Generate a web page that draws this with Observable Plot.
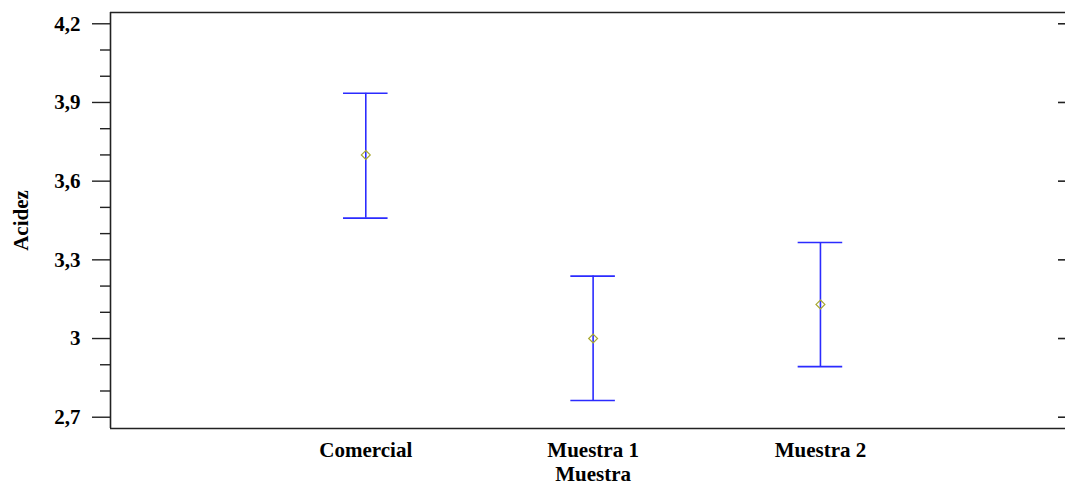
<!DOCTYPE html>
<html>
<head>
<meta charset="utf-8">
<script src="https://cdn.jsdelivr.net/npm/d3@7"></script>
<script src="https://cdn.jsdelivr.net/npm/@observablehq/plot@0.6"></script>
<style>
  html, body { margin: 0; padding: 0; background: #fff; }
  #chart svg { display: block; }
</style>
</head>
<body>
<div id="chart"></div>
<script>
// Data
const categories = ["Comercial", "Muestra 1", "Muestra 2"];
const positions = [1, 2, 3];
const means = [3.70, 3.00, 3.13];
const lower = [3.459, 2.764, 2.893];
const upper = [3.935, 3.238, 3.366];
const majorTicks = [2.7, 3.0, 3.3, 3.6, 3.9, 4.2];
const minorTicks = [2.8, 2.9, 3.1, 3.2, 3.4, 3.5, 3.7, 3.8, 4.0, 4.1];
const xLabel = "Muestra";
const yLabel = "Acidez";

const rows = categories.map((c, i) => ({
  cat: c, x: positions[i], mean: means[i], low: lower[i], high: upper[i]
}));

const capHalf = 0.098;
const fmt = d => String(+d.toFixed(1)).replace(".", ",");
const xDomain = [-0.123, 4.078];
const yDomain = [2.657, 4.243];
const axisColor = "#222";
const barColor = "#2b2bff";

const chart = Plot.plot({
  width: 1065,
  height: 487,
  marginLeft: 110,
  marginRight: 0,
  marginTop: 12,
  marginBottom: 59,
  style: { fontFamily: "'Liberation Serif', 'Times New Roman', serif", fontSize: "21px", fontWeight: "bold", color: "#000", background: "#fff" },
  x: { type: "linear", domain: xDomain },
  y: { type: "linear", domain: yDomain },
  marks: [
    // frame lines
    Plot.ruleY([yDomain[1]], { stroke: axisColor, strokeWidth: 1.6 }),
    Plot.ruleY([yDomain[0]], { stroke: axisColor, strokeWidth: 1.6 }),
    Plot.ruleX([xDomain[0]], { stroke: axisColor, strokeWidth: 1.6 }),
    // y axis major ticks + labels
    Plot.axisY({ anchor: "left", ticks: majorTicks, tickSize: 18, tickPadding: 12, tickFormat: fmt, label: null, stroke: axisColor, strokeWidth: 1.4, fontSize: 21, fontWeight: "bold" }),
    // minor ticks
    Plot.axisY({ anchor: "left", ticks: minorTicks, tickSize: 10, text: null, label: null, stroke: axisColor, strokeWidth: 1.4 }),
    // right inward ticks
    Plot.axisY({ anchor: "right", ticks: majorTicks, tickSize: -8, text: null, label: null, stroke: axisColor, strokeWidth: 1.6 }),
    // x axis labels
    Plot.axisX({ ticks: positions, tickFormat: d => categories[positions.indexOf(d)], tickSize: 0, tickPadding: 14, label: null, fontSize: 21, fontWeight: "bold" }),
    // axis titles
    Plot.text([xLabel], { x: 2, frameAnchor: "bottom", lineAnchor: "top", dy: 38, text: d => d, fontSize: 21, fontWeight: "bold" }),
    Plot.text([yLabel], { frameAnchor: "left", textAnchor: "middle", rotate: -90, dx: -89, text: d => d, fontSize: 21, fontWeight: "bold" }),
    // error bars
    Plot.ruleX(rows, { x: "x", y1: "low", y2: "high", stroke: barColor, strokeWidth: 1.6 }),
    Plot.ruleY(rows, { y: "high", x1: d => d.x - capHalf, x2: d => d.x + capHalf, stroke: barColor, strokeWidth: 1.6 }),
    Plot.ruleY(rows, { y: "low", x1: d => d.x - capHalf, x2: d => d.x + capHalf, stroke: barColor, strokeWidth: 1.6 }),
    // means
    Plot.dot(rows, { x: "x", y: "mean", symbol: "diamond2", r: 4, stroke: "#a8a830", strokeWidth: 1.2, fill: "none" })
  ]
});
document.getElementById("chart").appendChild(chart);
</script>
</body>
</html>
